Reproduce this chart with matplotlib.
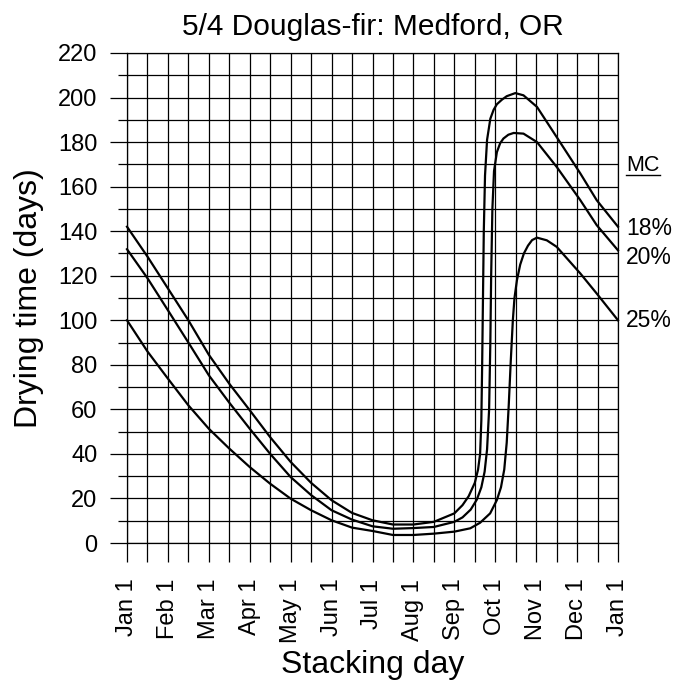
import numpy as np
import matplotlib
matplotlib.use('Agg')
import matplotlib.pyplot as plt
from matplotlib.lines import Line2D

plt.rcParams['font.family'] = ['Liberation Sans', 'DejaVu Sans']

# ── data (x = months after Jan 1, y = drying time in days) ──────────────────
MONTH_LABELS = ['Jan 1', 'Feb 1', 'Mar 1', 'Apr 1', 'May 1', 'Jun 1', 'Jul 1',
                'Aug 1', 'Sep 1', 'Oct 1', 'Nov 1', 'Dec 1', 'Jan 1']

mc18_x = [0, 0.5, 1, 1.5, 2, 2.5, 3, 3.5, 4, 4.5, 5, 5.5, 6, 6.5, 7, 7.5, 8,
          8.2, 8.35, 8.5, 8.58, 8.63, 8.66, 8.68, 8.7, 8.72, 8.75, 8.8, 8.88,
          8.96, 9.04, 9.16, 9.28, 9.49, 9.69, 10.02, 10.5, 11.08, 11.48, 12]
mc18_y = [142, 128.6, 114.3, 100, 84.5, 71.5, 59.6, 47.5, 36.4, 27, 19.2, 13.5,
          10.2, 8.3, 8.3, 9.5, 13.3, 17, 21, 27, 33, 40, 55, 80, 110, 140,
          165, 181, 190.5, 194.5, 197, 199, 200.6, 202, 201, 195.8, 182.3,
          165.9, 153.9, 142]

mc20_x = [0, 0.5, 1, 1.5, 2, 2.5, 3, 3.5, 4, 4.5, 5, 5.5, 6, 6.5, 7, 7.5, 8,
          8.2, 8.4, 8.55, 8.66, 8.74, 8.8, 8.85, 8.88, 8.9, 8.93, 8.97, 9.04,
          9.12, 9.2, 9.32, 9.45, 9.69, 10.02, 10.5, 11.08, 11.48, 12]
mc20_y = [131.9, 118.9, 104.5, 90, 75.3, 63, 51.3, 40, 29.6, 21.5, 14.7, 10.5,
          7.5, 6.4, 6.7, 7.2, 9.5, 11.5, 15, 19.5, 25, 32, 42, 60, 90, 120,
          150, 167, 175.5, 179.5, 181.6, 183.3, 184.1, 183.8, 180, 168.9,
          153.9, 142.7, 131.4]

mc25_x = [0, 0.5, 1, 1.5, 2, 2.5, 3, 3.5, 4, 4.5, 5, 5.5, 6, 6.5, 7, 7.5, 8,
          8.39, 8.63, 8.875, 9.04, 9.14, 9.22, 9.28, 9.33, 9.38, 9.43, 9.47,
          9.53, 9.61, 9.7, 9.8, 9.9, 10.02, 10.26, 10.5, 11.08, 11.48, 12]
mc25_y = [100, 86, 73.8, 61.8, 51.3, 42.4, 34.1, 26.6, 19.9, 14.7, 10.2, 6.9,
          5.4, 3.6, 3.6, 4.2, 5.1, 6.6, 9.1, 13.3, 19.3, 25, 33, 45, 62, 82,
          100, 110, 118, 125, 130, 133.5, 136, 137.1, 135.9, 133, 121, 112, 100]

SERIES_LABELS = ['18%', '20%', '25%']
LABEL_Y = [141, 128, 100]   # where each MC label sits at the right edge

# ── figure ───────────────────────────────────────────────────────────────────
fig = plt.figure(figsize=(6.89, 6.88), dpi=100, facecolor='white')
ax = fig.add_axes([127 / 689, 1 - 543 / 688, 491 / 689, 490 / 688])

for xs, ys in [(mc18_x, mc18_y), (mc20_x, mc20_y), (mc25_x, mc25_y)]:
    ax.plot(xs, ys, color='black', lw=1.6, zorder=3, clip_on=False,
            solid_joinstyle='round')

ax.set_xlim(0, 12)
ax.set_ylim(0, 220)

ax.set_xticks(range(13))
ax.set_xticklabels(MONTH_LABELS)
ax.set_xticks(np.arange(0.5, 12, 1), minor=True)
ax.set_yticks(range(0, 221, 20))
ax.set_yticks(range(10, 220, 20), minor=True)

ax.tick_params(axis='x', which='both', length=13.7, width=0.9, direction='out',
               color='black', pad=12, labelsize=17, labelrotation=90)
ax.tick_params(axis='y', which='major', length=12.2, width=0.9, direction='out',
               color='black', pad=9, labelsize=17)
ax.tick_params(axis='y', which='minor', length=6.5, width=0.9, direction='out',
               color='black')

ax.grid(which='both', color='black', lw=0.9)
ax.set_axisbelow(True)
for spine in ax.spines.values():
    spine.set_color('black')
    spine.set_linewidth(0.9)

ax.set_title('5/4 Douglas-fir: Medford, OR', fontsize=21.5, pad=13)
ax.set_ylabel('Drying time (days)', fontsize=23, va='center')
ax.yaxis.set_label_coords(-0.2, 0.5)
ax.set_xlabel('Stacking day', fontsize=23, va='top')
ax.xaxis.set_label_coords(0.5, -0.218)

# MC labels at the right edge
trans = ax.get_yaxis_transform()
for lab, y in zip(SERIES_LABELS, LABEL_Y):
    ax.text(1.017, y, lab, transform=trans, fontsize=16.5, va='center', ha='left')
mc = ax.text(1.017, 169.5, 'MC', transform=trans, fontsize=15.5, va='center', ha='left')

fig.canvas.draw()
bb = mc.get_window_extent().transformed(fig.transFigure.inverted())
fig.add_artist(Line2D([bb.x0, bb.x1], [bb.y0 + 0.001, bb.y0 + 0.001],
                      transform=fig.transFigure, color='black', lw=1.0))

fig.savefig('out.png', dpi=100, facecolor='white')
